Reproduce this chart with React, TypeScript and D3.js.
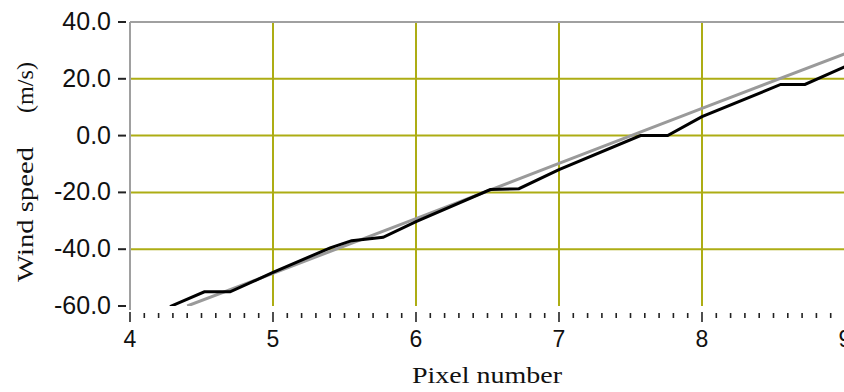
import React from "react";
import * as d3 from "d3";

const xTicks = [4, 5, 6, 7, 8, 9];
const yTicks = [-60, -40, -20, 0, 20, 40];
const yTickLabels = ["-60.0", "-40.0", "-20.0", "0.0", "20.0", "40.0"];

const refX = [4.4, 5, 6, 7, 8, 9];
const refY = [-60, -48.5, -29.2, -9.8, 9.6, 28.8];

const measX = [4.28, 4.52, 4.7, 5.0, 5.4, 5.55, 5.63, 5.77, 6.0, 6.52, 6.72, 7.0, 7.57, 7.76, 8.0, 8.55, 8.72, 9.0];
const measY = [-60.2, -55, -55, -48.2, -39.5, -37, -36.6, -35.8, -30.3, -19, -18.7, -12, 0, 0, 6.7, 18, 18, 24.3];

const W = 844;
const H = 392;
const L = 130;
const R = 845;
const T = 22;
const B = 306;

export default function App() {
  const x = d3.scaleLinear().domain([4, 9]).range([L, R]);
  const y = d3.scaleLinear().domain([-60, 40]).range([B, T]);
  const line = d3
    .line<[number, number]>()
    .x((d) => x(d[0]))
    .y((d) => y(d[1]));
  const refPts = refX.map((v, i) => [v, refY[i]] as [number, number]);
  const measPts = measX.map((v, i) => [v, measY[i]] as [number, number]);
  const minor = d3.range(40, 91).map((v) => v / 10).filter((v) => Math.abs(v - Math.round(v)) > 1e-6);
  const grid = "#adad14";

  return (
    <svg width={W} height={H} style={{ position: "absolute", left: 0, top: 0, background: "#fff" }}>
      <defs>
        <clipPath id="plot">
          <rect x={L} y={T} width={W - L} height={B - T} />
        </clipPath>
      </defs>
      {xTicks.filter((t) => t > 4).map((t) => (
        <line key={"gx" + t} x1={x(t)} x2={x(t)} y1={T} y2={B} stroke={grid} strokeWidth={2} />
      ))}
      {yTicks.filter((t) => t > -60 && t < 40).map((t) => (
        <line key={"gy" + t} x1={L} x2={W} y1={y(t)} y2={y(t)} stroke={grid} strokeWidth={2} />
      ))}
      <g clipPath="url(#plot)">
        <path d={line(refPts) || ""} fill="none" stroke="#9a9a9a" strokeWidth={3} />
        <path d={line(measPts) || ""} fill="none" stroke="#000" strokeWidth={3} strokeLinejoin="miter" />
      </g>
      <line x1={L} x2={W} y1={T} y2={T} stroke="#a0a0a0" strokeWidth={2} />
      <line x1={L} x2={L} y1={T} y2={B + 4} stroke="#a0a0a0" strokeWidth={2} />
      {yTicks.map((t, i) => (
        <g key={"yt" + t}>
          <line x1={L - 12} x2={L - 4} y1={y(t)} y2={y(t)} stroke="#222" strokeWidth={2} />
          <text
            x={111}
            y={y(t) + 8}
            textAnchor="end"
            fontFamily="Liberation Sans, Arial, sans-serif"
            fontSize={25}
            fill="#111"
          >
            {yTickLabels[i]}
          </text>
        </g>
      ))}
      {minor.map((t) => (
        <line key={"mx" + t} x1={x(t)} x2={x(t)} y1={313} y2={318} stroke="#222" strokeWidth={1.6} />
      ))}
      {xTicks.map((t) => (
        <g key={"xt" + t}>
          <line x1={x(t)} x2={x(t)} y1={312} y2={322} stroke="#222" strokeWidth={1.6} />
          <text
            x={x(t)}
            y={347}
            textAnchor="middle"
            fontFamily="Liberation Sans, Arial, sans-serif"
            fontSize={23}
            fill="#111"
          >
            {t}
          </text>
        </g>
      ))}
      <text
        x={412}
        y={383}
        fontFamily="Liberation Serif, Times New Roman, serif"
        fontSize={24}
        textLength={150}
        lengthAdjust="spacingAndGlyphs"
        fill="#111"
      >
        Pixel number
      </text>
      <g transform="translate(33,0) rotate(-90)">
        <text
          x={-282}
          y={0}
          fontFamily="Liberation Serif, Times New Roman, serif"
          fontSize={24}
          textLength={135}
          lengthAdjust="spacingAndGlyphs"
          fill="#111"
        >
          Wind speed
        </text>
        <text
          x={-113}
          y={0}
          fontFamily="Liberation Serif, Times New Roman, serif"
          fontSize={24}
          textLength={51}
          lengthAdjust="spacingAndGlyphs"
          fill="#111"
        >
          (m/s)
        </text>
      </g>
    </svg>
  );
}
